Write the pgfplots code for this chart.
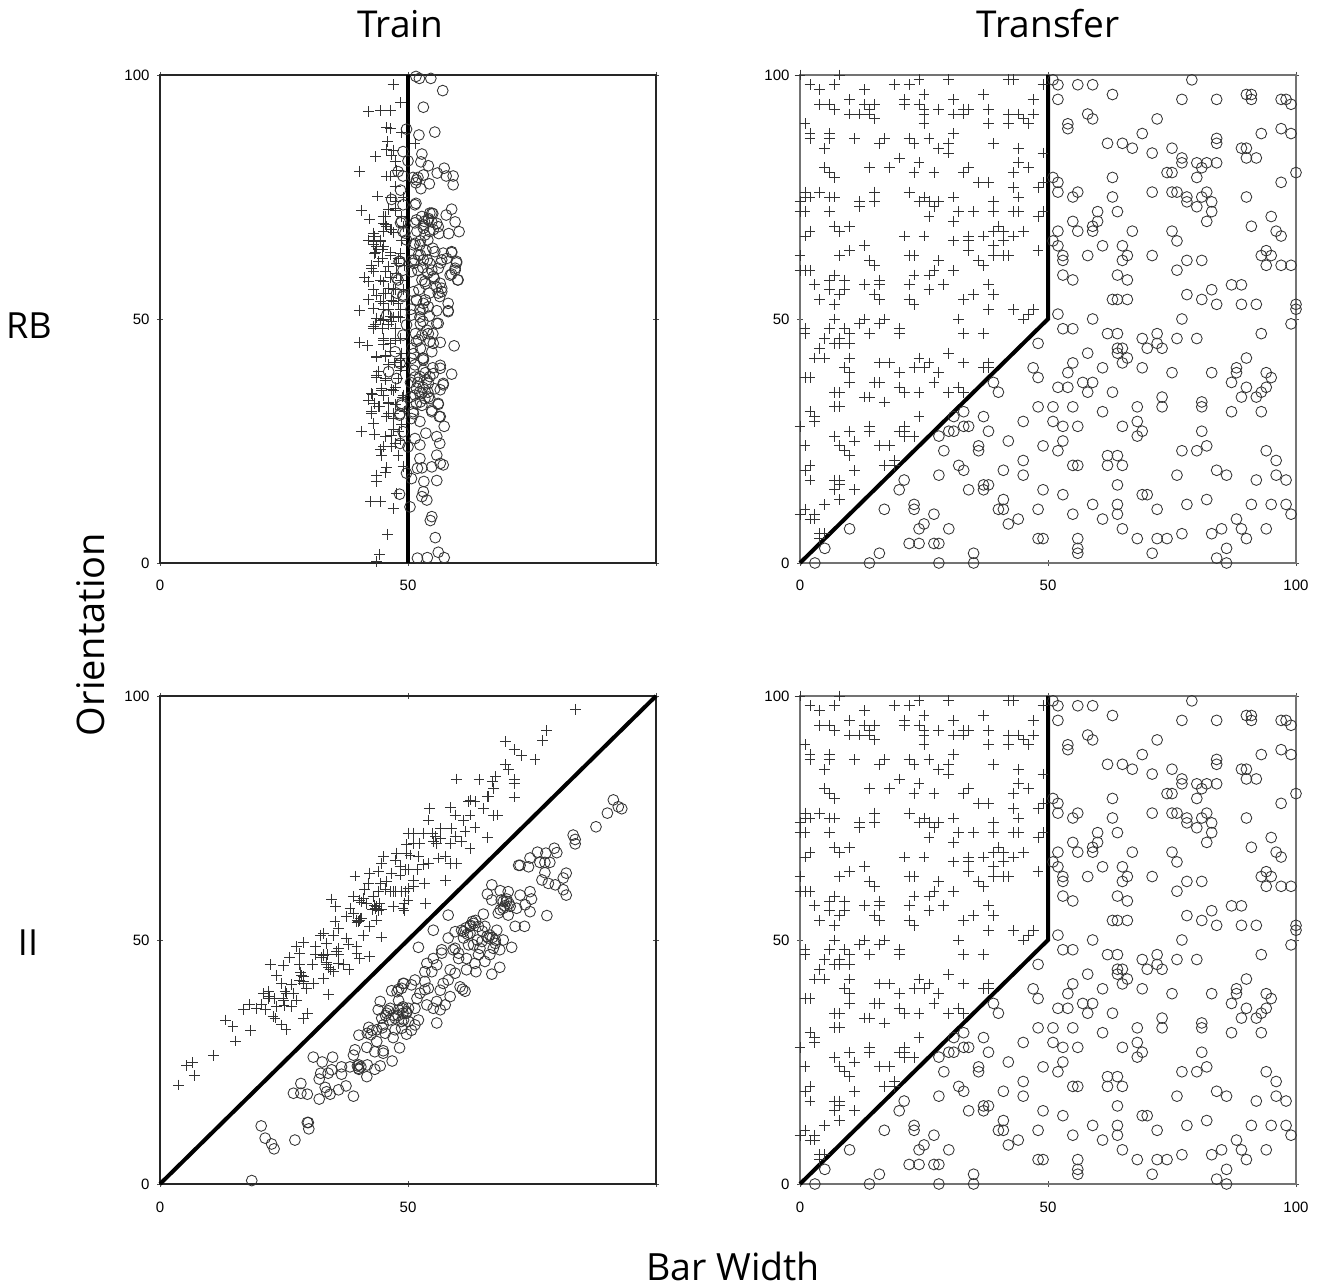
\documentclass[border=0pt]{standalone}
\usepackage{pgfplots}
\usepackage{pgfplotstable}
\usepackage{fontspec}
\setmainfont{Liberation Sans}
\newfontfamily\labfont{Open Sans}
\pgfplotsset{compat=1.18}

% Transfer stimuli (shared by both right-hand panels)
\pgfplotstableread[row sep=\\]{x y\\
8 100\\0 100\\24 99\\30 99\\42 99\\43 99\\2 98\\7 98\\19 98\\22 98\\49 98\\4 97\\13 97\\25 96\\37 96\\10 95\\21 95\\31 95\\47 95\\4 94\\6 94\\13 94\\15 94\\21 94\\24 94\\7 93\\14 93\\25 93\\28 93\\33 93\\34 93\\38 93\\10 92\\12 92\\14 92\\25 92\\31 92\\33 92\\42 92\\44 92\\47 92\\15 91\\45 91\\1 90\\25 90\\38 90\\42 90\\46 90\\2 88\\6 88\\31 88\\2 87\\6 87\\11 87\\17 87\\22 87\\26 87\\16 86\\23 86\\30 86\\39 86\\5 85\\28 85\\44 85\\30 84\\49 84\\20 83\\24 82\\44 82\\5 81\\14 81\\18 81\\34 81\\46 81\\6 80\\23 80\\27 80\\33 80\\43 80\\7 79\\36 78\\38 78\\49 78\\43 77\\48 77\\1 76\\4 76\\15 76\\22 76\\1 75\\2 75\\6 75\\7 75\\25 75\\31 75\\44 75\\0 74\\12 74\\15 74\\24 74\\26 74\\28 74\\39 74\\12 73\\27 73\\0 72\\1 72\\6 72\\32 72\\35 72\\39 72\\43 72\\44 72\\49 72\\26 71\\48 71\\31 70\\7 69\\10 69\\40 69\\2 68\\8 68\\39 68\\41 68\\45 68\\1 67\\21 67\\25 67\\34 67\\37 67\\43 67\\31 66\\34 66\\41 66\\13 65\\39 65\\10 64\\34 64\\48 64\\0 63\\8 63\\22 63\\23 63\\39 63\\41 63\\42 63\\14 62\\28 62\\36 62\\15 61\\37 61\\0 60\\1 60\\2 60\\27 60\\31 60\\7 59\\23 59\\26 59\\6 58\\9 58\\16 58\\3 57\\13 57\\16 57\\22 57\\29 57\\38 57\\6 56\\9 56\\26 56\\8 55\\15 55\\35 55\\39 55\\4 54\\16 54\\22 54\\33 54\\7 53\\23 53\\38 52\\43 52\\47 52\\46 51\\7 50\\13 50\\17 50\\32 50\\45 50\\12 49\\16 49\\1 48\\6 48\\9 48\\20 48\\1 47\\10 47\\14 47\\20 47\\33 47\\37 47\\5 46\\8 46\\7 45\\8 45\\10 45\\4 44\\30 43\\3 42\\5 42\\10 42\\24 42\\16 41\\18 41\\26 41\\33 41\\38 41\\9 40\\23 40\\25 40\\37 40\\38 40\\10 39\\20 39\\28 39\\1 38\\2 38\\10 37\\15 37\\16 37\\27 37\\20 36\\32 36\\7 35\\8 35\\21 35\\24 35\\30 35\\33 35\\13 34\\14 34\\17 33\\7 32\\8 32\\2 31\\3 30\\24 30\\3 29\\0 28\\14 28\\21 28\\10 27\\14 27\\20 27\\21 27\\7 26\\21 26\\23 26\\11 25\\1 24\\8 24\\16 24\\18 24\\9 23\\10 22\\19 21\\2 20\\17 20\\19 20\\1 19\\11 19\\2 17\\7 17\\8 17\\8 16\\7 15\\11 15\\8 13\\5 12\\1 11\\0 10\\3 10\\2 9\\3 9\\4 6\\5 6\\4 5\\
}\trplus

\pgfplotstableread[row sep=\\]{x y\\
51 99\\52 98\\56 98\\59 98\\63 96\\79 99\\52 95\\77 95\\84 95\\90 96\\91 96\\91 95\\97 95\\98 95\\99 94\\58 92\\59 91\\54 90\\54 89\\72 91\\69 88\\62 86\\65 86\\67 85\\71 84\\75 85\\84 87\\84 86\\89 85\\90 85\\93 88\\97 89\\99 88\\77 83\\77 82\\80 82\\82 82\\81 81\\84 82\\90 83\\92 83\\74 80\\75 80\\80 79\\100 80\\51 79\\52 78\\63 79\\97 78\\52 76\\56 76\\55 75\\63 75\\71 76\\75 76\\76 76\\78 75\\78 74\\81 75\\82 76\\83 74\\80 73\\83 72\\90 75\\60 72\\64 72\\55 70\\60 70\\59 69\\59 68\\56 68\\52 68\\67 68\\82 70\\95 71\\91 69\\75 68\\76 66\\96 68\\97 67\\51 66\\52 65\\53 63\\53 62\\58 63\\61 65\\65 65\\66 63\\65 62\\71 63\\78 62\\81 62\\76 60\\93 63\\94 64\\95 63\\94 61\\97 61\\99 61\\53 59\\55 58\\64 59\\66 58\\87 57\\89 57\\78 55\\83 56\\81 54\\84 53\\89 53\\92 53\\63 54\\64 54\\66 54\\100 53\\100 52\\52 51\\59 50\\77 50\\99 49\\53 48\\55 48\\62 47\\64 47\\72 47\\69 46\\72 45\\76 46\\80 46\\93 47\\65 44\\64 44\\64 43\\70 44\\73 44\\58 43\\66 42\\65 41\\55 41\\90 42\\54 39\\61 40\\69 40\\75 39\\83 39\\88 40\\88 39\\94 39\\95 38\\87 37\\52 36\\54 36\\57 37\\59 37\\58 35\\63 35\\90 36\\94 36\\93 35\\92 34\\89 34\\73 34\\51 32\\55 32\\68 32\\73 32\\81 33\\81 32\\61 31\\87 31\\93 31\\51 29\\53 28\\56 28\\65 28\\68 29\\69 27\\68 26\\81 27\\53 25\\52 23\\49 24\\77 23\\80 23\\82 24\\94 23\\96 21\\62 22\\64 22\\62 20\\65 20\\55 20\\56 20\\84 19\\86 18\\76 18\\92 17\\96 18\\98 17\\64 16\\49 15\\53 14\\69 14\\70 14\\82 13\\59 12\\64 12\\78 12\\91 12\\95 12\\98 12\\99 10\\72 11\\55 10\\64 10\\61 9\\88 9\\89 7\\65 7\\85 7\\94 7\\83 6\\77 6\\90 5\\56 5\\68 5\\72 5\\74 5\\49 5\\86 3\\56 3\\56 2\\71 2\\84 1\\86 0\\
48 45\\47 40\\48 38\\39 37\\40 35\\48 32\\33 31\\31 30\\37 30\\45 29\\33 28\\34 28\\30 27\\31 27\\38 27\\28 26\\42 25\\36 24\\36 23\\29 23\\45 21\\32 20\\33 19\\41 19\\28 18\\45 18\\21 17\\20 15\\34 15\\37 16\\37 15\\38 16\\41 13\\23 12\\23 11\\17 11\\40 11\\41 11\\48 11\\27 10\\44 9\\25 8\\42 8\\24 7\\30 7\\10 7\\48 5\\22 4\\24 4\\27 4\\28 4\\5 3\\16 2\\35 2\\3 0\\14 0\\28 0\\35 0\\
}\trcirc

% Train RB
\pgfplotstableread[row sep=\\]{x y\\
47 98\\48.5 94.3\\42 92.5\\44.4 92.7\\46.4 92.8\\45.6 89.3\\46.5 89\\48.7 88.2\\45.8 86.3\\51.4 86\\45.6 84.8\\47 84.6\\43.5 83.3\\46.7 83.6\\47.4 82.2\\40.2 80.3\\45.7 79.3\\46.4 79.3\\47.7 80.5\\47.4 77.1\\43.8 75.2\\46.4 75\\47.4 74\\40.7 72.3\\42.2 70.5\\47.4 72.3\\45 71\\45 69.6\\45.7 69\\46.4 68.4\\45 67.9\\47 67.7\\43 67.6\\42 66.2\\43 65.9\\44.5 65.8\\43.7 64.8\\44.9 64.3\\43.4 63.6\\46.4 63.6\\44.8 62.4\\48.4 63.5\\42.7 61\\47.7 61.4\\43 59.7\\45.4 59.7\\41.3 58.5\\42 57.7\\46.4 58.5\\45 57.6\\47.6 59.3\\43 56\\45 55.2\\47 56\\42 54\\44.4 53.7\\47 53.7\\43 52.2\\40.2 51.7\\45 53.2\\46.4 50.5\\48 50.5\\45 52\\43.7 50.2\\48.4 52\\
45 50\\48.4 50.3\\43 48.1\\44.8 48.1\\46 48.8\\43.4 48.8\\46.7 49.5\\45 46\\47.4 46\\40.2 45.2\\41.8 44.5\\45 44.7\\43.7 42.3\\45.4 42.3\\46 40.6\\48.4 41.9\\44 39.2\\43.7 38\\45.4 37.8\\44.7 35.8\\46.7 35.5\\42.9 34.6\\42 33.4\\46 32.9\\43.3 32.7\\44.2 32\\42.7 30.7\\46 30.7\\43 28.6\\47 29.6\\40.7 27\\43.3 26.4\\45.4 25.9\\46.7 26.2\\47.4 24.5\\48.4 25.2\\44.4 23.2\\44.7 22.1\\46.7 23.8\\48 22.1\\45.7 19.5\\45.4 18.6\\43.6 18\\43.6 16.7\\49 19.7\\47.7 14.3\\42.5 12.6\\44.4 12.6\\47 11.1\\45.8 5.9\\44.2 1.8\\43.7 0.3\\46.4 43.3\\48 37.8\\45 34.4\\47.4 32.4\\47 27.3\\45 23.8\\48.7 28.3\\
46 52\\47.5 48\\48.5 46\\46.5 45\\48.6 43\\47.2 41\\48.5 39.5\\47.5 36\\48.8 34\\49.2 31\\48.2 27\\49 56\\48.5 58\\49.2 61\\48.7 66\\49 69\\48.6 71\\49 75\\
45.4 71\\45.4 69.3\\46.7 68.3\\46 72.4\\47.4 72.7\\43.3 66.9\\44.4 66.2\\43 65.2\\45 64.8\\46.4 63.1\\48 62.4\\43.3 63.5\\42.7 60.4\\44 61.8\\46 60.7\\44.4 58\\46 56.3\\43.7 54.9\\45.4 55.3\\47.4 56\\46.7 53.9\\48 53.2\\
43 48.4\\44.4 49.8\\47 50.4\\48.4 50.4\\47.4 45.7\\45 45.7\\43.7 42.2\\45.4 42.6\\48.4 41.6\\43.7 38.5\\45.4 37.5\\47 35.4\\44.7 35.4\\42.7 34.7\\44 32\\46 32.7\\47 30.6\\42.7 31\\45.7 30\\49 34.4\\48.7 40.2\\
}\tlplus
\pgfplotstableread[row sep=\\]{x y\\
51.6 99.7\\52.3 99.3\\54.6 99.3\\57 96.8\\53.1 93.4\\49.7 88.9\\52.2 87.7\\55.4 88.3\\49 84.3\\52.8 83.8\\50 82.4\\52.6 82.2\\54.1 81.4\\57.3 80.9\\48 80.2\\49 79.3\\55.9 79.9\\57.7 79.3\\59.1 79.3\\59.1 77.5\\54.3 77.7\\53.1 79.5\\51.7 78.5\\51 79\\52 79\\51.6 77.9\\52.6 76.7\\48.5 76.4\\46.7 74.5\\49 73.4\\51.6 73.7\\58.8 72.5\\57.7 71.3\\54.4 71.7\\55 71.6\\54.1 70.6\\55.8 69.6\\54.8 69.9\\59.5 69.9\\48.5 69.7\\51.4 69.7\\53.1 68.6\\54.4 67.9\\56.2 67.5\\58.2 67.5\\60.3 67.9\\49.4 67.6\\49.7 66.2\\51.4 65.5\\54 66.2\\55 64.5\\58.8 63.6\\57.1 63.5\\52.5 63.1\\53.9 62.1\\51.4 62.1\\59.8 61.5\\56.6 61.5\\59.5 60\\58.8 59.2\\60 58\\48.2 61.8\\49 60\\50.7 59.7\\48 58\\54 59.4\\55.3 58.3\\53.5 57.2\\55.7 56.6\\56.8 55.6\\54.3 55.3\\51.1 55.6\\51.7 53.9\\49 54.6\\53.5 53.9\\56.4 54.6\\58.1 53.2\\58.1 51.7\\55.8 51.7\\52.4 51.9\\45.7 50.8\\50.7 50.8\\54.3 50.6\\
59.3 44.5\\56.5 45.2\\47.4 43.3\\54.8 43.3\\53.1 41.9\\56.5 39.9\\58.8 38.7\\54.4 38.2\\57.1 36.5\\46.1 39.2\\51.1 39.5\\52.4 38.2\\54.1 36.8\\56.5 35.5\\52.8 34.8\\53.4 33.7\\51.7 35.8\\48.7 32.7\\56.1 32.5\\54.8 31\\56.3 30\\48.3 30.3\\52.4 29\\57.3 28\\49 26.9\\53.6 26.6\\55.8 25.9\\51.4 25.5\\56.4 24.5\\52.4 24.2\\48.4 24.5\\50 23.8\\55.8 22.1\\52.4 21.4\\54.8 19.7\\56.5 20.4\\57.1 20.1\\51.9 19.4\\52.8 19.5\\49.7 18.4\\50.7 17.3\\53.2 16.7\\55.8 16.9\\53.1 14.6\\48.3 14.1\\52.8 13.6\\53.8 12.9\\50.4 11.5\\54.8 9.5\\54.5 8.7\\55.5 5.2\\56.1 2.2\\51.9 1\\53.9 1.1\\57.3 1.1\\50.7 41.9\\51.4 40.6\\52.8 46.7\\53.8 47.7\\55.8 49.1\\49.7 48.8\\51.7 45.4\\49 46.7\\54.4 45.4\\51.7 32.7\\50.7 29.6\\54.4 33.7\\53 49.5\\
52 60\\52.8 58\\52.2 56\\53 52\\52.5 49\\51.5 47\\52.5 44\\53 42\\52 37\\53 36\\54 35\\52.5 33\\53.5 39\\50.8 44\\50.5 37\\50.5 34\\53 60.5\\53.6 64\\52.5 66\\51.8 68\\53.3 70\\52.8 71\\50.8 62\\50.6 52\\55 47\\55 40\\51 31\\
54.8 71.7\\56.1 68.9\\54.1 70.3\\55.1 68.3\\53.1 69.3\\48.7 70\\49 67.9\\51.4 73.4\\51.7 70.3\\53.4 67.2\\58.8 63.8\\57.8 62.4\\59.8 61.8\\59.5 60.4\\60.1 58\\58.5 59\\56.8 62.1\\55.4 63.8\\52.4 65.2\\52.1 63.1\\53.1 62.1\\54.4 61.4\\56.1 60.4\\53.4 57.7\\55.1 58.7\\56.5 57.3\\56.1 55.3\\56.8 56.3\\47.7 58.4\\48.4 61.8\\51.7 53.9\\53.1 53.2\\49 54.9\\47.7 55.3\\54.1 52.5\\54.8 60\\51.1 61.4\\51.1 65.2\\
58.1 51.5\\56.1 49.1\\54.1 47\\52.1 45.7\\52.4 50.4\\55.1 45\\51.1 42.9\\48.4 40.9\\53.1 41.6\\56.5 40.5\\55.1 38.8\\53.1 39.5\\51.4 38.1\\57.1 36.8\\55.4 35.7\\53.8 37.5\\52.4 35.1\\54.1 34\\51.4 34.4\\56.1 32.7\\52.8 32.3\\54.8 31.3\\56.5 30\\51.1 30.6\\48.4 30.6\\48.7 32.3\\47.7 37.8\\
}\tlcirc

% Train II
\pgfplotstableread[row sep=\\]{x y\\
3.8 20.3\\5.4 24.2\\6.5 24.9\\6.9 22.2\\10.8 26.4\\15.3 29.3\\18.3 31.4\\13.2 33.6\\14.7 32.2\\16.9 35.7\\18 36.7\\19.5 36\\20.5 36.7\\21.2 35.7\\22.8 34.3\\24.5 32.6\\25.4 31.6\\28.9 33.9\\29.7 35\\33.9 38.9\\20.8 39\\21.8 39.4\\21.8 38\\23.5 36.3\\24.9 37.7\\25.5 39\\26.5 36.3\\27.6 37.7\\24.5 41.1\\26.5 40.8\\23.5 42.8\\22.2 45\\24.9 44.7\\26.1 46.4\\28.2 47.3\\28.2 45\\28.9 42.5\\28.9 41.1\\29.6 40.1\\30.9 41.1\\32.9 42.1\\34.3 43.9\\30.8 44.9\\32.9 47\\36 45.2\\38.1 43.9\\40.3 46.2\\42.3 46.6\\39.7 47.3\\34.9 43.5\\33.6 44.9\\31.3 47.1\\35.6 47.6\\25.2 39.4\\23.2 34\\28.2 41.8\\
45 67.1\\44.7 65.7\\47.7 67.8\\49.7 69.5\\49.7 67.8\\50 71.9\\47.4 66.4\\39.3 63.1\\42.3 63.7\\44 64\\46.7 63.7\\48.4 65\\48.4 63.3\\50 64.4\\42 61.6\\44.4 61.6\\45.7 62\\47 59.9\\48.7 59.9\\50 60.6\\34.6 58.4\\35.4 56.9\\38.3 56.5\\39 58.9\\40.3 58.2\\41.7 57.5\\43.7 56.9\\44.7 56.2\\43 58.9\\47 56.9\\49 56.5\\50 58.2\\35.3 53.8\\36 52.4\\37.6 54.8\\40 53.8\\40.7 54.5\\42.3 52.8\\43.7 54.1\\44.7 50.6\\32.9 51.4\\32.3 51\\34.9 51\\37.6 50.4\\27.6 48.7\\28.9 49.5\\31.3 48.7\\33.6 49.3\\41 51\\39.7 48.7\\36 48.3\\38 49\\39.7 54.1\\41.3 60.3\\44 59.9\\46.4 59.9\\39 55.5\\
83.7 97.3\\78 92.9\\77.1 90.9\\69.6 90.7\\71.4 89\\72.9 87.8\\75.6 87\\69.6 85.9\\70.2 84.9\\67.7 83.5\\71.4 82.9\\71.4 82\\64.3 82.9\\59.7 83\\67.1 82.5\\67.2 81.1\\66.2 79.4\\71.4 79.3\\62.5 78.7\\63.5 78.4\\65.2 77\\54.3 77\\58.5 77.1\\59.5 75.6\\67.2 75.5\\68.1 75.6\\62.5 75.6\\54.1 74.6\\61.2 74.5\\63.5 73\\66 71\\56.5 72.9\\58.8 72.9\\61.5 72.2\\51.1 71.9\\53.1 71.9\\55.5 71.2\\59.5 71.2\\51.1 69.8\\52.4 69.8\\55.1 70.2\\58.5 69.7\\60.8 70.2\\62.5 68.8\\50.4 67.4\\52.1 67.1\\56.1 66.8\\57.5 67.1\\58.5 65.7\\59.8 65.6\\49.4 64.4\\51.8 64.4\\53.1 65.4\\54.1 65.7\\51.1 62.3\\53.4 61.6\\57.6 62.2\\49.4 59.9\\51.1 60.9\\49.2 57.5\\53.6 57.4\\49.2 56\\62.2 78.4\\66 79.4\\
40.3 54\\39.7 53.7\\40.5 54.4\\43.5 56.5\\44 56\\43.2 57\\44.3 57.4\\42.8 56.2\\40.7 57.8\\41 58.5\\47.5 60\\45.5 60.3\\28.6 42.7\\28.3 43.3\\29 41.6\\34 44.4\\33.5 45.5\\33 46.8\\32.6 46.4\\33.7 47\\22 38.5\\24.8 38\\25 36.5\\23 38\\27 39\\36 47\\37 45\\55.8 69.8\\56.5 70.8\\55 71.8\\
}\blplus
\pgfplotstableread[row sep=\\]{x y\\
91.4 78.7\\92.4 77.3\\93.1 76.9\\90.2 76\\87.9 73.2\\83.3 71.5\\83.7 70.6\\83.7 69.7\\79.5 68.8\\80 67.9\\76.1 68\\77.8 67.8\\74.6 66.8\\72.3 65.3\\72.6 65.3\\74.3 65\\76.6 65.9\\77.6 65.9\\78.6 65.9\\77.6 63.8\\81.9 63.7\\81.3 62.7\\77 62.3\\78.3 61.6\\79.7 61.3\\81.3 60.3\\81.9 59.2\\66.9 61.3\\66 59.4\\68.6 60.1\\70.2 59.9\\72.6 59.2\\74.6 59.9\\74.9 58.4\\66.9 58.2\\69.2 57.9\\70.6 56.9\\71.9 56.5\\73.6 57.2\\74.6 55.8\\68.6 56.2\\70.2 55.1\\78 55\\58.1 55.1\\65.2 55.3\\68.2 55.5\\55.1 52\\63 53.8\\64.2 52.8\\61.2 51.7\\59.5 51.7\\58.1 50.4\\62.5 51.4\\65.5 52.8\\67.9 52\\71.6 52.8\\73.5 52.8\\65.9 50.7\\67.6 50\\69.2 50\\52.1 48.5\\56.8 48\\59.5 48.3\\64.5 48.3\\70.9 48.5\\67.2 48.3\\61.2 50.4\\69.9 57.9\\69.2 56.5\\66.2 50.4\\62.5 52.8\\
18.5 0.7\\20.4 11.9\\21.2 9.4\\22.5 8.2\\23 7.2\\27.2 9\\29.9 12.6\\29.7 12.6\\30 11.3\\26.9 18.6\\28.4 20.6\\28.4 18.6\\29.7 18.4\\32.1 17.4\\32.1 21.5\\32.4 22.7\\30.9 26\\32.7 25\\34.8 26\\34.6 23.4\\33.9 22.7\\36.6 24\\36.6 22.5\\33.3 19.8\\33.6 18.9\\34.3 18.4\\36 19.3\\37.5 20.1\\39 18\\38.3 24\\39 26.4\\39.3 27.5\\40.1 24.4\\40.1 23.5\\41.7 22\\41.8 24.4\\43.3 23.5\\44.4 24.2\\46.8 25.2\\48.3 27.9\\43.3 27.1\\45 27.3\\45 26.8\\41.7 28\\43.7 29.2\\40.1 30.5\\41.8 30.9\\42.1 32.1\\43.7 31.6\\45.4 30.9\\47.4 31.6\\47 30\\49.7 30.7\\44.4 37.4\\44 35.7\\44.7 34\\45.7 35\\46.4 36\\48.1 37.6\\48.1 35.7\\49.7 35.3\\49.1 33.6\\46.7 39.6\\48.1 39.9\\47.8 39.4\\49.2 41.1\\47.4 34\\45 32.6\\
66.9 43\\68.5 44.4\\55.8 33\\61.5 39.5\\60.5 40.4\\61 39.9\\58.5 38.4\\56.5 39.7\\58.1 41.8\\59.5 43.2\\61.8 43.9\\63.7 43.5\\65.5 45.6\\64.2 47\\66.5 47\\68.5 48\\67.6 49.3\\64.9 49.7\\62.2 49\\60.2 47.3\\59.1 48\\60.2 46.2\\56.8 47.3\\55.1 46.2\\55.8 44.9\\53.8 45.2\\54.8 43.5\\53.4 43.5\\58.5 43.9\\61.8 46.2\\63.5 45.2\\51.4 41.8\\50.7 40.8\\53.4 41.5\\54.1 40.1\\53.4 39.8\\55.8 37.4\\55.1 36\\57.5 36.7\\56.5 35.7\\53.8 36.7\\51.8 38\\52.4 39.1\\48.7 40.1\\49 41.1\\50.1 36\\49 36.3\\51.4 36\\49.7 35\\52.1 33.6\\51.4 32.6\\48.7 33.3\\50.1 33.3\\50.7 31.5\\48.7 31.9\\57.1 41.1\\
40 23.7\\40.5 24\\39.8 24.2\\45.5 34.5\\46.2 33.6\\46 35.5\\47 34.6\\48.8 36\\49 35\\48 34.5\\44.8 32\\42.8 31.5\\42.5 30.6\\69.9 58.4\\70.4 57.4\\69.5 57\\68.8 58.2\\63.2 53.4\\63.6 54\\62.6 53\\61.7 52.5\\62 51.2\\60.8 52\\65 51.8\\66.5 51\\67 50.5\\64 50\\63.2 49\\
}\blcirc

\pgfplotsset{
  panel/.style={
    scale only axis, width=496pt, height=488pt,
    xmin=0, xmax=100, ymin=0, ymax=100,
    clip=false, tick align=center, major tick length=6pt,
    tick style={black!70, line width=0.8pt},
    ytick={0,50,100},
    tick label style={font=\fontsize{15}{15}\selectfont},
    /pgf/number format/assume math mode=true,
    xticklabel style={yshift=-11pt},
    yticklabel style={xshift=-4pt},
  },
  pl/.style={only marks, mark=+, mark size=5.4pt, black!80, mark options={line width=0.85pt, black!80}},
  ci/.style={only marks, mark=o, mark size=5.4pt, black!80, mark options={line width=0.85pt, black!80, fill=none}},
  bound/.style={black, line width=4pt, no marks, line join=miter},
}

\begin{document}
\begin{tikzpicture}[x=1pt,y=1pt]
\path[use as bounding box] (0,0) rectangle (1326,1288);

% Top-left: Train RB
\begin{axis}[panel, at={(160pt,725pt)}, anchor=south west, xtick={0,50,100}, xticklabels={0,50,},
  axis line style={black!85, line width=1.3pt}]
\addplot[pl] table[x=x,y=y] {\tlplus};
\addplot[ci] table[x=x,y=y] {\tlcirc};
\addplot[bound] coordinates {(50,0) (50,100)};
\end{axis}

% Top-right: Transfer RB
\begin{axis}[panel, at={(800pt,725pt)}, anchor=south west, xtick={0,50,100},
  axis line style={black!55, line width=1.1pt}]
\addplot[pl] table[x=x,y=y] {\trplus};
\addplot[ci] table[x=x,y=y] {\trcirc};
\addplot[bound] coordinates {(0,0) (50,50) (50,100)};
\end{axis}

% Bottom-left: Train II
\begin{axis}[panel, at={(160pt,104pt)}, anchor=south west, xtick={0,50,100}, xticklabels={0,50,},
  axis line style={black!85, line width=1.3pt}]
\addplot[pl] table[x=x,y=y] {\blplus};
\addplot[ci] table[x=x,y=y] {\blcirc};
\addplot[bound] coordinates {(0,0) (100,100)};
\end{axis}

% Bottom-right: Transfer II
\begin{axis}[panel, at={(800pt,104pt)}, anchor=south west, xtick={0,50,100},
  axis line style={black!55, line width=1.1pt}]
\addplot[pl] table[x=x,y=y] {\trplus};
\addplot[ci] table[x=x,y=y] {\trcirc};
\addplot[bound] coordinates {(0,0) (50,50) (50,100)};
\end{axis}

\node[font=\labfont\fontsize{37}{37}\selectfont] at (400,1264) {Train};
\node[font=\labfont\fontsize{37}{37}\selectfont] at (1048,1264) {Transfer};
\node[font=\labfont\fontsize{36}{36}\selectfont] at (29,962) {RB};
\node[font=\labfont\fontsize{36}{36}\selectfont] at (28,345) {II};
\node[font=\labfont\fontsize{38}{38}\selectfont, rotate=90] at (91,653.5) {Orientation};
\node[font=\labfont\fontsize{37.5}{37.5}\selectfont] at (733,22) {Bar Width};
\end{tikzpicture}
\end{document}
